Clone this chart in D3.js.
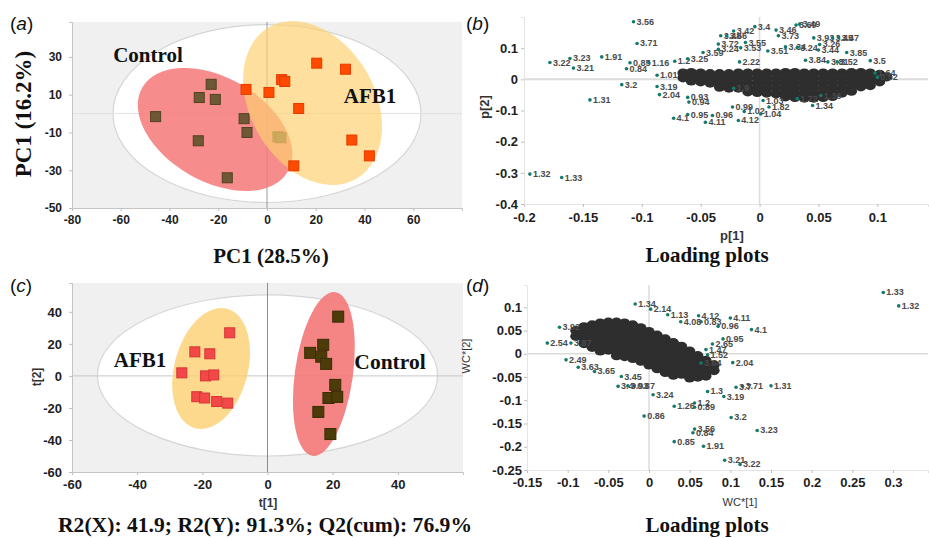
<!DOCTYPE html>
<html>
<head>
<meta charset="utf-8">
<script src="https://cdn.jsdelivr.net/npm/d3@7"></script>
<style>
body { margin: 0; background: #fff; }
svg text { font-family: "Liberation Sans", Arial, sans-serif; }
.serif { font-family: "Liberation Serif", "Times New Roman", serif !important; font-weight: bold; }
</style>
</head>
<body>
<svg id="fig" width="929" height="538"></svg>
<script>
// ---- panel (a): PCA scores ----
const aTicksX = [-80, -60, -40, -20, 0, 20, 40, 60];
const aTicksY = [-50, -30, -10, 10, 30];
const aControl = [[-45.7, -1.6], [-28.2, -14.4], [-22.9, 15.5], [-27.8, 8.5], [-21.2, 7.5],
    [-16.3, -34], [-9.4, -2.7], [-8.2, -10], [4.5, -12.3], [5.7, -12.8]];
const aAFB1 = [[-8.6, 12.8], [0.8, 11.2], [6, 18], [7.3, 17], [20.4, 26.7],
    [32.2, 23.5], [13, 2.7], [34.8, -14], [42, -22.4], [11, -27.7]];
// ellipses: centre, semi axes (data units), rotation in degrees
const aEllipses = [
    {group: "T2", cx: 0, cy: 0, rx: 63.2, ry: 47.1, angle: 0},
    {group: "Control", cx: -21.3, cy: -8.4, rx: 34.5, ry: 27.5, angle: 30},
    {group: "AFB1", cx: 18.7, cy: 5.6, rx: 35.9, ry: 33, angle: 60}
];

// ---- panel (c): OPLS-DA scores ----
const cTicksX = [-60, -40, -20, 0, 20, 40];
const cTicksY = [-60, -40, -20, 0, 20, 40];
const cAFB1 = [[-11.6, 26.9], [-22.3, 15], [-17.7, 13.8], [-26.3, 1.9], [-19, 0],
    [-16.5, 0.6], [-21.7, -13], [-19.3, -13.8], [-15.6, -16], [-12.2, -17]];
const cControl = [[21.7, 37], [17.1, 19.4], [13.1, 14.4], [16.5, 12], [18, 7.5],
    [20.8, -5.6], [18.7, -13.8], [21.4, -13.1], [15.6, -22.5], [19.3, -36.3]];
const cEllipses = [
    {group: "T2", cx: 0, cy: 0.3, rx: 52.2, ry: 50.3, angle: 0},
    {group: "AFB1", cx: -17.3, cy: 4.6, rx: 11.3, ry: 38.6, angle: 15},
    {group: "Control", cx: 17.3, cy: 1.2, rx: 8.9, ry: 51.6, angle: 8}
];

// ---- panel (b): loading plot p[1] / p[2] ----
const bTicksX = [-0.2, -0.15, -0.1, -0.05, 0, 0.05, 0.1];
const bTickLabelsX = ["-0.2", "-0.15", "-0.1", "-0.05", "0", "0.05", "0.1"];
const bTicksY = [-0.4, -0.3, -0.2, -0.1, 0, 0.1];
const bTickLabelsY = ["-0.4", "-0.3", "-0.2", "-0.1", "0", "0.1"];
const bLabelled = [
    ["3.56", -0.107, 0.185], ["3.71", -0.104, 0.115], ["3.22", -0.178, 0.054], ["3.23", -0.161, 0.067],
    ["3.21", -0.158, 0.036], ["1.91", -0.134, 0.072], ["0.84", -0.113, 0.034], ["0.85", -0.110, 0.053],
    ["1.16", -0.094, 0.054], ["1.2", -0.072, 0.058], ["3.25", -0.061, 0.066], ["3.2", -0.117, -0.017],
    ["1.31", -0.144, -0.066], ["1.32", -0.195, -0.304], ["1.33", -0.168, -0.315], ["3.19", -0.087, -0.023],
    ["2.04", -0.085, -0.049], ["1.01", -0.087, 0.013], ["0.94", -0.060, -0.073], ["0.93", -0.061, -0.058],
    ["4.1", -0.073, -0.125], ["0.95", -0.061, -0.113], ["4.11", -0.046, -0.138], ["0.96", -0.040, -0.116],
    ["4.12", -0.018, -0.132], ["0.99", -0.023, -0.089], ["1.02", -0.013, -0.103], ["1.04", 0.001, -0.111],
    ["1.03", 0.003, -0.068], ["1.82", 0.008, -0.089], ["2.22", -0.017, 0.056], ["3.59", -0.048, 0.086],
    ["3.24", -0.035, 0.096], ["3.72", -0.035, 0.113], ["3.53", -0.016, 0.101], ["3.55", -0.012, 0.118],
    ["3.42", -0.022, 0.155], ["3.48", -0.033, 0.140], ["3.66", -0.028, 0.140], ["3.4", -0.004, 0.169],
    ["3.46", 0.014, 0.158], ["3.73", 0.016, 0.140], ["3.69", 0.031, 0.174], ["3.49", 0.034, 0.177],
    ["3.51", 0.007, 0.091], ["3.34", 0.022, 0.104], ["3.24", 0.032, 0.102], ["3.93", 0.046, 0.133],
    ["3.45", 0.062, 0.133], ["3.47", 0.067, 0.134], ["3.26", 0.051, 0.112], ["3.44", 0.050, 0.094],
    ["3.85", 0.074, 0.086], ["3.81", 0.058, 0.056], ["3.52", 0.066, 0.056], ["3.84", 0.039, 0.061],
    ["3.5", 0.094, 0.060], ["1.34", 0.045, -0.084], ["1.36", 0.052, -0.052], ["1.72", 0.032, -0.062],
    ["0.52", 0.100, 0.007], ["1.64", 0.098, 0.020], ["1.9", -0.022, -0.029]
];
// dense core of loadings, listed column by column: [p1, [p2 values]]
const bCore = [
    [-0.065, [0.02, 0.005]],
    [-0.058, [0.022, 0.008, -0.005]],
    [-0.05, [0.02, 0.005, -0.008]],
    [-0.042, [0.018, 0.003, -0.012]],
    [-0.034, [0.018, 0.002, -0.014, -0.025]],
    [-0.026, [0.018, 0.002, -0.014, -0.028]],
    [-0.018, [0.02, 0.004, -0.012, -0.028]],
    [-0.01, [0.02, 0.004, -0.012, -0.028, -0.04]],
    [-0.002, [0.02, 0.004, -0.012, -0.028, -0.042]],
    [0.006, [0.02, 0.004, -0.012, -0.028, -0.044]],
    [0.014, [0.02, 0.004, -0.012, -0.028, -0.046]],
    [0.022, [0.022, 0.006, -0.01, -0.026, -0.042, -0.056]],
    [0.03, [0.022, 0.006, -0.01, -0.026, -0.042, -0.058]],
    [0.038, [0.02, 0.004, -0.012, -0.028, -0.044, -0.06]],
    [0.046, [0.02, 0.004, -0.012, -0.028, -0.044, -0.06]],
    [0.054, [0.02, 0.004, -0.012, -0.028, -0.044, -0.058]],
    [0.062, [0.02, 0.004, -0.012, -0.028, -0.044, -0.055]],
    [0.07, [0.02, 0.004, -0.012, -0.028, -0.044]],
    [0.078, [0.022, 0.006, -0.01, -0.026, -0.038]],
    [0.086, [0.022, 0.006, -0.01, -0.024]],
    [0.094, [0.02, 0.006, -0.008, -0.02]],
    [0.102, [0.016, 0.004, -0.008]],
    [0.108, [0.008]]
];

// ---- panel (d): loading plot WC*[1] / WC*[2] ----
const dTicksX = [-0.15, -0.1, -0.05, 0, 0.05, 0.1, 0.15, 0.2, 0.25, 0.3];
const dTickLabelsX = ["-0.15", "-0.1", "-0.05", "0", "0.05", "0.1", "0.15", "0.2", "0.25", "0.3"];
const dTicksY = [-0.25, -0.2, -0.15, -0.1, -0.05, 0, 0.05, 0.1];
const dTickLabelsY = ["-0.25", "-0.2", "-0.15", "-0.1", "-0.05", "0", "0.05", "0.1"];
const dLabelled = [
    ["1.33", 0.288, 0.132], ["1.32", 0.307, 0.103], ["1.34", -0.017, 0.107], ["2.14", 0.002, 0.096],
    ["4.12", 0.061, 0.082], ["4.11", 0.100, 0.077], ["0.96", 0.085, 0.059], ["4.1", 0.126, 0.052],
    ["0.95", 0.091, 0.032], ["2.65", 0.078, 0.021], ["1.47", 0.070, 0.009], ["2.04", 0.103, -0.019],
    ["1.31", 0.150, -0.069], ["3.71", 0.115, -0.070], ["3.7", 0.107, -0.072], ["3.19", 0.092, -0.092],
    ["1.3", 0.072, -0.081], ["3.2", 0.101, -0.137], ["3.23", 0.133, -0.165], ["3.56", 0.056, -0.162],
    ["0.84", 0.054, -0.170], ["1.91", 0.067, -0.199], ["0.85", 0.031, -0.189], ["3.21", 0.093, -0.229],
    ["3.22", 0.112, -0.238], ["0.86", -0.006, -0.134], ["3.24", 0.005, -0.088], ["0.87", -0.018, -0.069],
    ["3.4", -0.038, -0.070], ["3.93", -0.026, -0.069], ["3.45", -0.034, -0.049], ["3.92", -0.110, 0.057],
    ["2.54", -0.125, 0.023], ["3.87", -0.096, 0.023], ["2.49", -0.102, -0.013], ["3.63", -0.087, -0.029],
    ["3.65", -0.067, -0.038], ["0.83", 0.064, 0.069], ["4.08", 0.039, 0.069], ["1.13", 0.023, 0.084],
    ["1.52", 0.072, -0.002], ["3.64", 0.064, -0.020], ["1.2", 0.056, -0.106], ["1.26", 0.031, -0.113],
    ["0.89", 0.056, -0.115]
];
const dCore = [
    [-0.09, [0.05, 0.038]],
    [-0.08, [0.058, 0.046, 0.034, 0.022]],
    [-0.07, [0.062, 0.05, 0.038, 0.026, 0.014]],
    [-0.06, [0.066, 0.054, 0.042, 0.03, 0.018, 0.006]],
    [-0.05, [0.068, 0.056, 0.044, 0.032, 0.02, 0.008]],
    [-0.04, [0.068, 0.056, 0.044, 0.032, 0.02, 0.008, -0.004]],
    [-0.03, [0.066, 0.054, 0.042, 0.03, 0.018, 0.006, -0.006]],
    [-0.02, [0.062, 0.05, 0.038, 0.026, 0.014, 0.002, -0.01]],
    [-0.01, [0.056, 0.044, 0.032, 0.02, 0.008, -0.004, -0.016]],
    [0, [0.048, 0.036, 0.024, 0.012, 0, -0.012, -0.024]],
    [0.01, [0.04, 0.028, 0.016, 0.004, -0.008, -0.02, -0.032]],
    [0.02, [0.032, 0.02, 0.008, -0.004, -0.016, -0.028, -0.04]],
    [0.03, [0.024, 0.012, 0, -0.012, -0.024, -0.036, -0.046]],
    [0.04, [0.016, 0.004, -0.008, -0.02, -0.032, -0.044]],
    [0.05, [0.006, -0.006, -0.018, -0.03, -0.042, -0.052]],
    [0.06, [-0.004, -0.016, -0.028, -0.04, -0.05]],
    [0.07, [-0.014, -0.026, -0.038, -0.048]],
    [0.08, [-0.024, -0.036]]
];

const svg = d3.select("#fig");

const fills = {T2: "#ffffff", Control: "#f47878", AFB1: "#fdd070"};

function ellipse(g, x, y, e, opacity) {
    const cx = x(e.cx), cy = y(e.cy);
    const rx = Math.abs(x(e.cx + e.rx) - cx);
    const ry = Math.abs(y(e.cy + e.ry) - cy);
    g.append("ellipse")
        .attr("cx", cx).attr("cy", cy)
        .attr("rx", rx).attr("ry", ry)
        .attr("transform", `rotate(${e.angle},${cx},${cy})`)
        .attr("fill", fills[e.group])
        .attr("fill-opacity", opacity)
        .attr("stroke", e.group === "T2" ? "#d6d6d6" : "none")
        .attr("stroke-width", 1.2);
}

function squares(g, x, y, data, size, fill, stroke) {
    g.selectAll(null).data(data).enter().append("rect")
        .attr("x", d => x(d[0]) - size / 2)
        .attr("y", d => y(d[1]) - size / 2)
        .attr("width", size).attr("height", size)
        .attr("fill", fill)
        .attr("stroke", stroke)
        .attr("stroke-width", 1);
}

function axes(g, x, y, xt, yt, xl, yl, fs, padX, padY) {
    const ax = g.append("g")
        .attr("transform", `translate(0,${y.range()[0]})`)
        .call(d3.axisBottom(x).tickValues(xt).tickSize(3).tickPadding(padX)
            .tickFormat((d, i) => xl ? xl[i] : d));
    const ay = g.append("g")
        .attr("transform", `translate(${x.range()[0]},0)`)
        .call(d3.axisLeft(y).tickValues(yt).tickSize(3).tickPadding(padY)
            .tickFormat((d, i) => yl ? yl[i] : d));
    [ax, ay].forEach(a => {
        a.select(".domain").attr("stroke", "#c4c4c4");
        a.selectAll(".tick line").attr("stroke", "#bdbdbd");
        a.selectAll(".tick text")
            .style("font-size", fs + "px")
            .style("font-weight", "bold")
            .style("font-family", "'Liberation Sans', Arial, sans-serif")
            .attr("fill", "#1e1e1e");
    });
}

function panelLetter(x, y, letter) {
    const t = svg.append("text").attr("x", x).attr("y", y)
        .style("font-size", "19px").attr("fill", "#111");
    t.append("tspan").text("(");
    t.append("tspan").style("font-style", "italic").text(letter);
    t.append("tspan").text(")");
}

function serifText(x, y, str, size, anchor, rotate) {
    const t = svg.append("text")
        .attr("class", "serif")
        .attr("text-anchor", anchor || "middle")
        .style("font-size", size + "px")
        .attr("fill", "#111")
        .text(str);
    if (rotate) t.attr("transform", `translate(${x},${y}) rotate(-90)`);
    else t.attr("x", x).attr("y", y);
    return t;
}

function sansLabel(x, y, str, size, weight, rotate) {
    const t = svg.append("text")
        .attr("text-anchor", "middle")
        .style("font-size", size + "px")
        .style("font-weight", weight)
        .attr("fill", "#333")
        .text(str);
    if (rotate) t.attr("transform", `translate(${x},${y}) rotate(-90)`);
    else t.attr("x", x).attr("y", y);
}

function loadings(g, x, y, core, labelled) {
    const pts = core.flatMap(c => c[1].map(v => [c[0], v]));
    g.selectAll(null).data(pts).enter().append("ellipse")
        .attr("cx", d => x(d[0])).attr("cy", d => y(d[1]))
        .attr("rx", 5.6).attr("ry", 4.6).attr("fill", "#2e2e2e");

    const lab = g.selectAll(null).data(labelled).enter().append("g")
        .attr("transform", d => `translate(${x(d[1])},${y(d[2])})`);
    lab.append("circle").attr("r", 1.8).attr("fill", "#137a6c");
    lab.append("text").attr("x", 3).attr("y", 3)
        .style("font-size", "9px").style("font-weight", "bold")
        .attr("fill", "#4a4a4a").text(d => d[0]);
}

// ================= panel (a) =================
{
    const x = d3.scaleLinear().domain([-80, 80]).range([72, 462]);
    const y = d3.scaleLinear().domain([-50, 48.5]).range([208, 22]);
    const g = svg.append("g");
    g.append("rect").attr("x", 72).attr("y", 22).attr("width", 390).attr("height", 186).attr("fill", "#f0f0f0");
    ellipse(g, x, y, aEllipses[0], 1);
    g.append("line").attr("x1", x.range()[0]).attr("x2", x.range()[1]).attr("y1", y(0)).attr("y2", y(0))
        .attr("stroke", "#e2e2e2");
    g.append("line").attr("x1", x(0)).attr("x2", x(0)).attr("y1", y.range()[1]).attr("y2", y.range()[0])
        .attr("stroke", "#9a9a9a");
    ellipse(g, x, y, aEllipses[1], 0.85);
    squares(g, x, y, aControl, 10, "#6e5836", "#54401f");
    ellipse(g, x, y, aEllipses[2], 0.68);
    squares(g, x, y, aAFB1, 10, "#ff4a00", "#e23c00");
    axes(g, x, y, aTicksX, aTicksY, null, null, 12, 4.5, 7);

    serifText(148, 62, "Control", 21);
    serifText(370, 103, "AFB1", 21);
    serifText(271, 263, "PC1 (28.5%)", 21);
    serifText(31, 114, "PC1 (16.2%)", 23, "middle", true);
    panelLetter(10, 30, "a");
}

// ================= panel (b) =================
{
    const x = d3.scaleLinear().domain([-0.2, 0.143]).range([524, 928]);
    const y = d3.scaleLinear().domain([-0.4, 0.2]).range([204, 17]);
    const g = svg.append("g");
    g.append("line").attr("x1", x.range()[0]).attr("x2", x.range()[1]).attr("y1", y(0)).attr("y2", y(0))
        .attr("stroke", "#dcdcdc").attr("stroke-width", 2);
    g.append("line").attr("x1", x(0)).attr("x2", x(0)).attr("y1", y.range()[1]).attr("y2", y.range()[0])
        .attr("stroke", "#dcdcdc").attr("stroke-width", 1.5);
    axes(g, x, y, bTicksX, bTicksY, bTickLabelsX, bTickLabelsY, 13, 5.8, 3);
    g.selectAll(".domain").attr("stroke", "#e4e4e4");
    loadings(g, x, y, bCore, bLabelled);

    sansLabel(732, 240, "p[1]", 13, "bold");
    sansLabel(489, 107, "p[2]", 13, "bold", true);
    serifText(707, 262, "Loading plots", 21);
    panelLetter(466, 30, "b");
}

// ================= panel (c) =================
{
    const x = d3.scaleLinear().domain([-60, 60]).range([72, 463]);
    const y = d3.scaleLinear().domain([-60, 58]).range([472, 283]);
    const g = svg.append("g");
    g.append("rect").attr("x", 72).attr("y", 283).attr("width", 391).attr("height", 189).attr("fill", "#f0f0f0");
    ellipse(g, x, y, cEllipses[0], 1);
    g.append("line").attr("x1", x.range()[0]).attr("x2", x.range()[1]).attr("y1", y(0)).attr("y2", y(0))
        .attr("stroke", "#c8c8c8");
    g.append("line").attr("x1", x(0)).attr("x2", x(0)).attr("y1", y.range()[1]).attr("y2", y.range()[0])
        .attr("stroke", "#8c8c8c");
    ellipse(g, x, y, cEllipses[1], 0.8);
    ellipse(g, x, y, cEllipses[2], 0.9);
    squares(g, x, y, cAFB1, 10, "#f24848", "#d83434");
    squares(g, x, y, cControl, 11, "#4d3c0a", "#3a2c05");
    axes(g, x, y, cTicksX, cTicksY, null, null, 13, 4.8, 7);

    serifText(140, 367, "AFB1", 21);
    serifText(390, 369, "Control", 21.5);
    sansLabel(268, 507, "t[1]", 12, "bold");
    sansLabel(41, 377, "t[2]", 12, "bold", true);
    serifText(58, 532, "R2(X): 41.9; R2(Y): 91.3%; Q2(cum): 76.9%", 20, "start")
        .attr("textLength", 414).attr("lengthAdjust", "spacingAndGlyphs");
    panelLetter(10, 292, "c");
}

// ================= panel (d) =================
{
    const x = d3.scaleLinear().domain([-0.15, 0.343]).range([527, 928]);
    const y = d3.scaleLinear().domain([-0.25, 0.148]).range([470, 285]);
    const g = svg.append("g");
    g.append("line").attr("x1", x.range()[0]).attr("x2", x.range()[1]).attr("y1", y(0)).attr("y2", y(0))
        .attr("stroke", "#dcdcdc").attr("stroke-width", 1.5);
    g.append("line").attr("x1", x(0)).attr("x2", x(0)).attr("y1", y.range()[1]).attr("y2", y.range()[0])
        .attr("stroke", "#dcdcdc").attr("stroke-width", 1.5);
    axes(g, x, y, dTicksX, dTicksY, dTickLabelsX, dTickLabelsY, 13, 4.8, 2);
    g.selectAll(".domain").attr("stroke", "#e4e4e4");
    loadings(g, x, y, dCore, dLabelled);

    sansLabel(740, 506, "WC*[1]", 11, "normal");
    sansLabel(470, 356, "WC*[2]", 11, "normal", true);
    serifText(707, 532, "Loading plots", 21);
    panelLetter(466, 292, "d");
}
</script>
</body>
</html>
